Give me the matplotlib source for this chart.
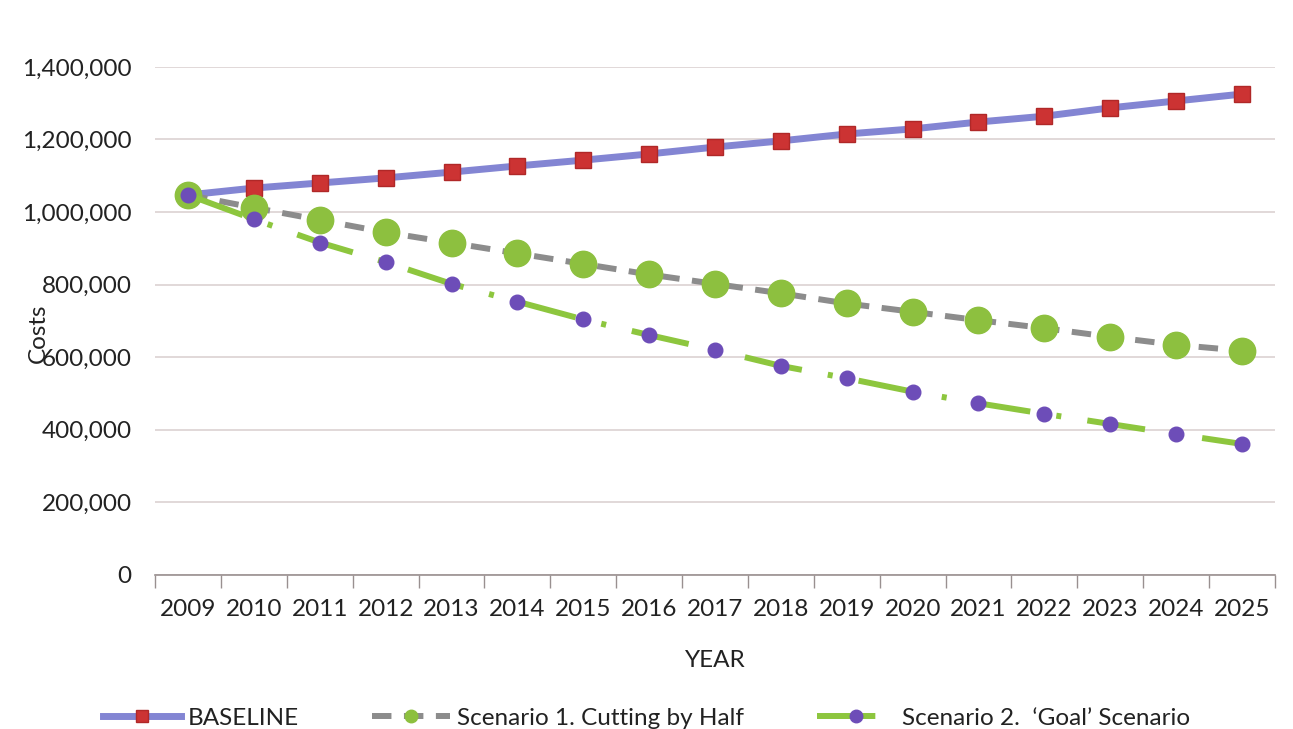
import matplotlib
matplotlib.use("Agg")
import matplotlib.pyplot as plt
from matplotlib.lines import Line2D
from matplotlib.ticker import FuncFormatter, FixedLocator

plt.rcParams['font.family'] = ['Lato', 'DejaVu Sans']
plt.rcParams['lines.scale_dashes'] = False

years = [2009, 2010, 2011, 2012, 2013, 2014, 2015, 2016, 2017,
         2018, 2019, 2020, 2021, 2022, 2023, 2024, 2025]

baseline = [1047000, 1066000, 1080000, 1094000, 1110000, 1127000, 1143000,
            1160000, 1179000, 1196000, 1215000, 1229000, 1248000, 1264000,
            1287000, 1306000, 1325000]

scenario1 = [1047000, 1012000, 978000, 944000, 915000, 886000, 857000,
             828000, 802000, 776000, 748000, 725000, 702000, 680000,
             656000, 634000, 618000]

scenario2 = [1047000, 980000, 916000, 862000, 802000, 753000, 704000,
             661000, 620000, 576000, 542000, 505000, 473000, 444000,
             416000, 388000, 361000]

labels = ["BASELINE", "Scenario 1. Cutting by Half", "Scenario 2.  \u2018Goal\u2019 Scenario"]

FS = 17.5
TXT = '#222222'

styles = [
    dict(color='#8385D3', lw=5, marker='s', markerfacecolor='#CC3333',
         markeredgecolor='#B02828', markeredgewidth=1),
    dict(color='#8C8C8C', lw=4.3, dashes=(14, 9), marker='o',
         markerfacecolor='#8DC03F', markeredgecolor='#8DC03F'),
    dict(color='#8DC63E', lw=4.3, dashes=(42, 19, 3.6, 19), marker='o',
         markerfacecolor='#6D4DB8', markeredgecolor='#6D4DB8'),
]
marker_sizes = [11.5, 19, 10.5]
legend_marker_sizes = [9, 9, 9]

fig = plt.figure(figsize=(12.93, 7.29), dpi=100)
ax = fig.add_axes([0.12, 0.2113, 0.866, 0.697])

x = list(range(len(years)))
for vals, st, ms, z in zip([baseline, scenario1, scenario2], styles, marker_sizes, [3, 3, 4]):
    ax.plot(x, vals, markersize=ms, zorder=z, **st)

ax.set_xlim(-0.5, len(years) - 0.5)
ax.set_ylim(0, 1400000)

ax.set_yticks(range(0, 1400001, 200000))
ax.yaxis.set_major_formatter(FuncFormatter(lambda v, p: f"{int(v):,}"))
ax.tick_params(axis='y', length=0, labelsize=FS, pad=17, colors=TXT)
ax.grid(axis='y', color='#DCD2D2', lw=1.2)
ax.set_axisbelow(True)

ax.xaxis.set_major_locator(FixedLocator([i - 0.5 for i in range(len(years) + 1)]))
ax.xaxis.set_major_formatter(FuncFormatter(lambda v, p: ""))
ax.xaxis.set_minor_locator(FixedLocator(x))
ax.set_xticklabels([str(y) for y in years], minor=True)
ax.tick_params(axis='x', which='major', length=9, width=1, color='#999090', direction='out')
ax.tick_params(axis='x', which='minor', length=0, labelsize=FS, pad=17, colors=TXT)

for side in ('top', 'right', 'left'):
    ax.spines[side].set_visible(False)
ax.spines['bottom'].set_color('#999090')
ax.spines['bottom'].set_linewidth(1.2)

ax.set_xlabel("YEAR", fontsize=FS, color=TXT, labelpad=22)
ax.set_ylabel("Costs", fontsize=FS, color=TXT)
ax.yaxis.set_label_coords(-0.095, 0.475)

handles = [Line2D([0], [0], markersize=ms, **st) for st, ms in zip(styles, legend_marker_sizes)]
fig.legend(handles, labels, loc='lower center', bbox_to_anchor=(0.5, -0.03), ncol=3,
           frameon=False, fontsize=FS, handlelength=3.2, columnspacing=3.0,
           handletextpad=0.3, numpoints=1, labelcolor=TXT)

fig.savefig("out.png", dpi=100, facecolor='white')
